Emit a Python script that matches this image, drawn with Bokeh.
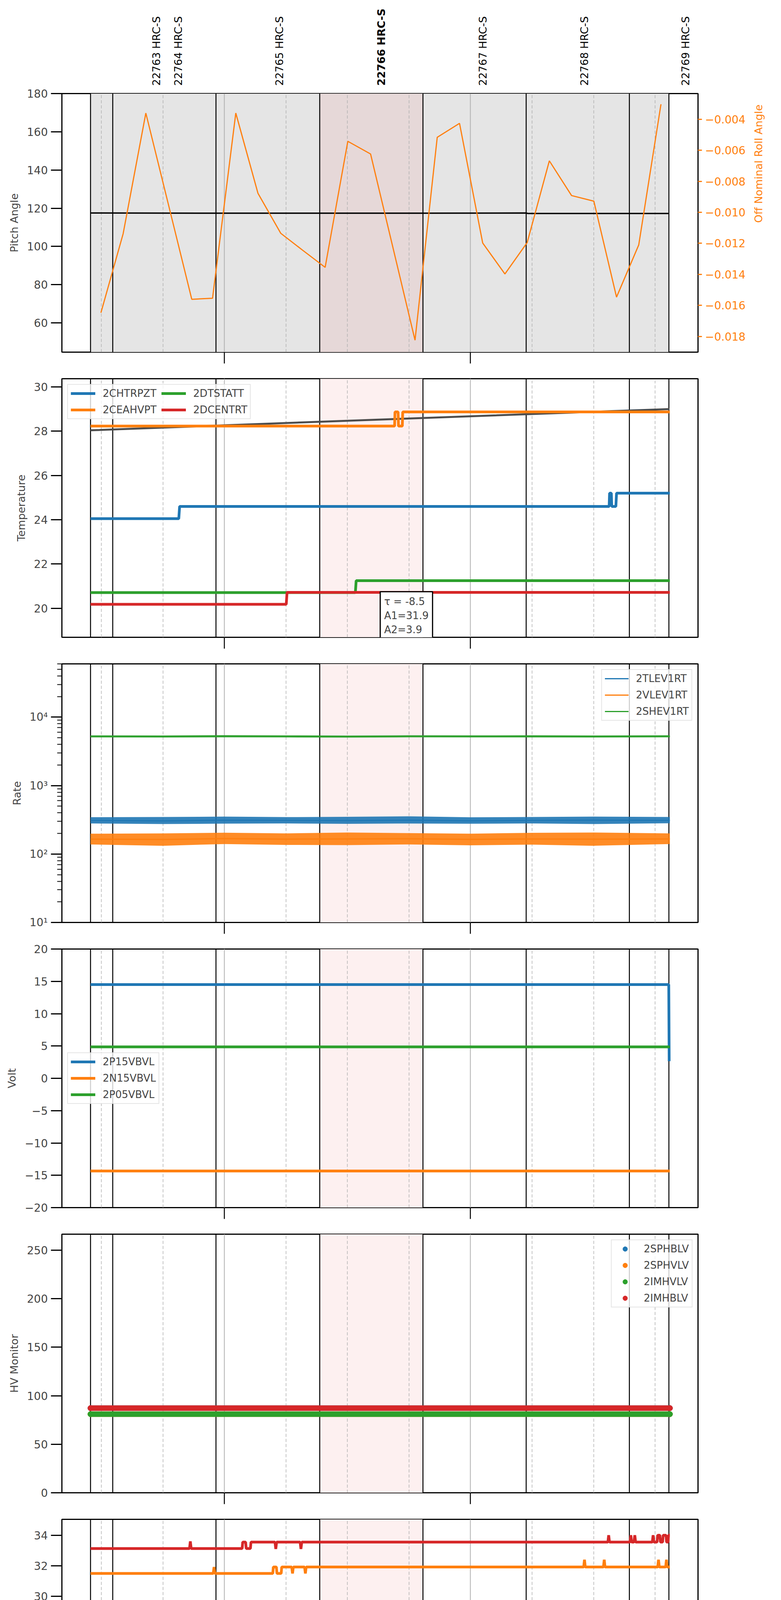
import math

import numpy as np
import pandas as pd
from bokeh.core.properties import value
from bokeh.embed import file_html
from bokeh.layouts import column
from bokeh.models import (BoxAnnotation, CustomJSTickFormatter, FixedTicker, Grid, Label,
                          Legend, LegendItem, LinearAxis, Range1d, SingleIntervalTicker, Span)
from bokeh.plotting import figure
from bokeh.resources import INLINE

DAY = "2020-11-03"

# time window and observation boundaries (UT)
view_start, view_stop = "21:20:22", "23:55:28"
data_start, data_stop = "21:27:21", "23:48:36"
obsids = ["22763", "22764", "22765", "22766", "22767", "22768", "22769"]
obs_start = ["21:27:21", "21:32:46", "21:57:56", "22:23:14", "22:48:24", "23:13:34", "23:38:44"]
obs_stop = "23:48:22"
focus_obsid = "22766"
hour_ticks = ["22:00:00", "23:00:00"]
quarter_ticks = ["21:30:00", "21:45:00", "22:15:00", "22:30:00", "22:45:00",
                 "23:15:00", "23:30:00", "23:45:00"]

# pitch and off nominal roll
pitch_t = ["21:27:21", "21:58:00", "22:48:00", "23:13:30", "23:14:00", "23:48:22"]
pitch_v = [117.5, 117.4, 117.4, 117.5, 117.25, 117.25]
roll_t = ["21:29:53", "21:35:18", "21:40:50", "21:46:16", "21:52:02", "21:57:06", "22:02:46",
          "22:08:10", "22:13:43", "22:19:08", "22:24:33", "22:30:05", "22:35:38", "22:41:03",
          "22:46:28", "22:51:53", "22:57:19", "23:02:58", "23:08:23", "23:13:49", "23:19:13",
          "23:24:38", "23:30:04", "23:35:36", "23:41:01", "23:46:26"]
roll_v = [-0.01648, -0.01138, -0.0036, -0.00942, -0.01561, -0.01554, -0.0036, -0.00877,
          -0.01135, -0.01246, -0.01355, -0.00542, -0.00624, -0.01224, -0.01825, -0.00516,
          -0.00426, -0.01198, -0.01398, -0.01195, -0.00668, -0.00892, -0.00928, -0.01547,
          -0.0121, -0.00303]

# temperatures
model_t = ["21:27:21", "22:29:41", "23:48:30"]
model_v = [28.04, 28.47, 29.00]
chtrpzt_t = ["21:27:21", "21:48:52", "21:49:04", "23:33:48", "23:33:54", "23:34:20", "23:34:26",
             "23:35:26", "23:35:36", "23:48:36"]
chtrpzt_v = [24.05, 24.05, 24.60, 24.60, 25.20, 25.20, 24.60, 24.60, 25.20, 25.20]
ceahvpt_t = ["21:27:21", "22:41:29", "22:41:35", "22:42:20", "22:42:26", "22:43:22", "22:43:28",
             "23:48:36"]
ceahvpt_v = [28.23, 28.23, 28.87, 28.87, 28.23, 28.23, 28.87, 28.87]
dtstatt_t = ["21:27:21", "22:31:55", "22:32:07", "23:48:36"]
dtstatt_v = [20.71, 20.71, 21.25, 21.25]
dcentrt_t = ["21:27:21", "22:15:04", "22:15:16", "23:48:36"]
dcentrt_v = [20.18, 20.18, 20.72, 20.72]
fit_text = "\u03c4 = -8.5\nA1=31.9\nA2=3.9"

# event rates (noisy: envelope and centre)
rate_t = ["21:27:21", "21:45:00", "22:00:00", "22:15:00", "22:30:00", "22:45:00", "23:00:00",
          "23:15:00", "23:30:00", "23:48:36"]
tlev_lo = [280, 274, 278, 280, 276, 279, 277, 280, 274, 282]
tlev_mid = [310, 305, 312, 310, 308, 312, 306, 310, 312, 310]
tlev_hi = [345, 348, 352, 346, 350, 355, 344, 348, 352, 348]
vlev_lo = [138, 132, 140, 136, 135, 138, 134, 137, 132, 140]
vlev_mid = [165, 163, 168, 165, 166, 167, 164, 166, 165, 166]
vlev_hi = [198, 200, 205, 200, 206, 202, 198, 204, 206, 200]
shev_lo = [5060, 5040, 5080, 5050, 5030, 5070, 5050, 5060, 5040, 5070]
shev_mid = [5220, 5210, 5240, 5220, 5200, 5230, 5220, 5230, 5210, 5230]
shev_hi = [5420, 5400, 5460, 5420, 5380, 5430, 5410, 5440, 5400, 5440]

# voltages
p15vbvl_t = ["21:27:21", "23:48:20", "23:48:26"]
p15vbvl_v = [14.5, 14.5, 2.65]
n15vbvl_v = [-14.33, -14.33]
p05vbvl_v = [4.86, 4.86]

# HV monitors
sphblv_v = [87.2, 87.2]
sphvlv_v = [81.0, 81.0]
imhvlv_v = [81.0, 81.0]
imhblv_v = [87.2, 87.2]

# detector temperatures
spinatm_t = ["21:27:21", "22:52:08", "22:52:16", "22:53:10", "22:53:18", "22:54:20", "22:54:28",
             "22:55:16", "23:48:36"]
spinatm_v = [19.62, 19.62, 20.30, 20.30, 19.62, 19.62, 20.30, 20.30, 20.30]
spinatm_spk_t = ["22:56:06", "22:57:33"]
spinatm_spk_v = [19.62, 19.62]
sphvatm_t = ["21:27:21", "22:11:47", "22:11:55", "22:12:40", "22:12:48", "22:13:50", "22:13:58",
             "22:14:33", "23:48:36"]
sphvatm_v = [31.50, 31.50, 31.92, 31.92, 31.50, 31.50, 31.92, 31.92, 31.92]
sphvatm_spk_t = ["21:57:28", "22:16:36", "22:19:44", "23:27:47", "23:32:36", "23:45:50", "23:47:46"]
sphvatm_spk_v = [31.92, 31.5, 31.5, 32.4, 32.4, 32.4, 32.4]
iminatm_v = [20.99, 20.99]
imhvatm_t = ["21:27:21", "22:04:19", "22:04:27", "22:05:10", "22:05:18", "22:06:20", "22:06:28",
             "23:45:29", "23:45:37", "23:46:10", "23:46:18", "23:46:50", "23:46:58", "23:47:40",
             "23:47:48", "23:48:10", "23:48:16", "23:48:36"]
imhvatm_v = [33.13, 33.13, 33.55, 33.55, 33.13, 33.13, 33.55, 33.55, 34.0, 34.0, 33.55, 33.55,
             34.0, 34.0, 33.55, 33.55, 34.0, 34.0]
imhvatm_spk_t = ["21:51:41", "22:12:31", "22:18:39", "23:33:41", "23:39:05", "23:40:03", "23:44:31"]
imhvatm_spk_v = [33.6, 33.1, 33.1, 34.0, 34.0, 34.0, 34.0]

# FEA temperatures
fhtrmzt_v = [23.49, 23.49]
fradpyt_t = ["21:27:21", "23:43:54", "23:44:02", "23:48:36"]
fradpyt_v = [18.65, 18.65, 19.17, 19.17]
fradpyt_spk_t = ["23:47:46"]
fradpyt_spk_v = [18.65]
fepratm_t = ["21:27:21", "22:35:02", "22:35:10", "22:36:00", "22:36:08", "22:37:10", "22:37:18",
             "22:38:02", "23:48:36"]
fepratm_v = [24.63, 24.63, 25.39, 25.39, 24.63, 24.63, 25.39, 25.39, 25.39]
fepratm_spk_t = ["22:39:29", "22:41:18"]
fepratm_spk_v = [24.63, 24.63]
fe00atm_t = ["21:27:21", "22:30:49", "22:30:57", "22:32:00", "22:32:08", "22:33:20", "22:33:28",
             "22:35:00", "22:35:08", "22:36:20", "22:36:28", "23:48:36"]
fe00atm_v = [22.97, 22.97, 23.29, 23.29, 22.97, 22.97, 23.29, 23.29, 22.97, 22.97, 23.29, 23.29]
fe00atm_spk_t = ["21:30:14", "21:31:12", "21:49:16", "21:53:51", "21:58:11", "22:02:38", "22:11:47",
                 "22:16:15", "22:25:16", "22:34:04", "22:37:05", "22:37:55", "22:41:18", "22:45:23",
                 "22:56:21", "23:14:10", "23:15:08", "23:20:26", "23:23:12", "23:28:08", "23:30:04",
                 "23:32:43", "23:41:59"]
fe00atm_spk_v = [22.68, 22.36, 22.36, 22.68, 22.68, 22.04, 23.33, 23.66, 23.98, 23.66, 22.36, 23.66,
                 22.68, 23.98, 22.97, 22.95, 23.66, 23.66, 22.62, 23.66, 22.97, 23.98, 23.66]

BLUE, ORANGE, GREEN, RED = "#1f77b4", "#ff7f0e", "#2ca02c", "#d62728"
FONT = "DejaVu Sans"
WIDTH = 1976
FRAME_W, FRAME_H = 1643, 662
LEFT, RIGHT = 158, WIDTH - 158 - 1643
TOP, BOTTOM = 18, 50


def ms(s):
    return pd.Timestamp(f"{DAY} {s}").value / 1e6


def msl(lst):
    return [ms(s) for s in lst]


def trace(times, values, spike_t=(), spike_v=()):
    xs = msl(times)
    ys = list(values)
    pts = list(zip(xs, ys))
    for s, v in zip(spike_t, spike_v):
        c = ms(s)
        base = float(np.interp(c, xs, ys))
        pts += [(c - 12000, base), (c, v), (c + 12000, base)]
    pts.sort(key=lambda q: q[0])
    return [q[0] for q in pts], [q[1] for q in pts]


span_t = [data_start, data_stop]
xr = Range1d(ms(view_start), ms(view_stop))
bounds = msl(obs_start) + [ms(obs_stop)]
i_focus = obsids.index(focus_obsid)
focus_left, focus_right = bounds[i_focus], bounds[i_focus + 1]


def style_y(ax, label):
    ax.axis_label = label
    ax.axis_label_text_font = FONT
    ax.axis_label_text_font_size = "27px"
    ax.axis_label_text_font_style = "normal"
    ax.axis_label_standoff = 14
    ax.major_label_text_font = FONT
    ax.major_label_text_font_size = "28px"
    ax.major_label_standoff = 8
    ax.major_tick_out = 28
    ax.major_tick_in = 0
    ax.major_tick_line_width = 3
    ax.minor_tick_line_color = None
    ax.axis_line_color = None


def panel(label, yr, interval=None, log=False, bottom=BOTTOM, shade=False):
    p = figure(width=WIDTH, height=TOP + FRAME_H + bottom, x_range=xr, y_range=yr,
               x_axis_type=None, y_axis_type="log" if log else "linear",
               toolbar_location=None, output_backend="svg",
               min_border_left=LEFT, min_border_right=RIGHT,
               min_border_top=TOP, min_border_bottom=bottom)
    p.outline_line_color = "black"
    p.outline_line_width = 3
    p.grid.visible = False
    ya = p.yaxis[0]
    style_y(ya, label)
    if interval:
        ya.ticker = SingleIntervalTicker(interval=interval)
    if log:
        ya.minor_tick_line_color = "black"
        ya.minor_tick_out = 12
        ya.minor_tick_in = 0
        ya.minor_tick_line_width = 2
        ya.formatter = CustomJSTickFormatter(code="""
            const sup = {1: '\\u00b9', 2: '\\u00b2', 3: '\\u00b3', 4: '\\u2074'};
            return '10' + sup[Math.round(Math.log10(tick))];""")
    if shade:
        p.add_layout(BoxAnnotation(left=bounds[0], right=bounds[-1], fill_color="#e5e5e5",
                                   fill_alpha=1, line_color=None, level="underlay"))
    p.add_layout(BoxAnnotation(left=focus_left, right=focus_right,
                               fill_color="#e6d8d8" if shade else "#fdf0f0",
                               fill_alpha=1, line_color=None, level="underlay"))
    p.add_layout(Grid(dimension=0, ticker=FixedTicker(ticks=msl(hour_ticks),
                                                      minor_ticks=msl(quarter_ticks)),
                      grid_line_color="#b0b0b0", grid_line_width=2,
                      minor_grid_line_color="#b0b0b0", minor_grid_line_width=1.5,
                      minor_grid_line_dash="8 5"))
    for b in bounds:
        p.add_layout(Span(location=b, dimension="height", line_color="black",
                          line_width=2.5, level="underlay"))
    if bottom == BOTTOM:
        xa = LinearAxis(ticker=FixedTicker(ticks=msl(hour_ticks)),
                        formatter=CustomJSTickFormatter(code="return '';"),
                        major_tick_out=29, major_tick_in=0, major_tick_line_width=2.5,
                        major_label_standoff=0, major_label_text_font_size="1px",
                        axis_line_color=None)
        p.add_layout(xa, "below")
    return p


def add_legend(p, items, location, ncols=1, glyph_w=63, standoff=19):
    lg = Legend(items=[LegendItem(label=l, renderers=[r]) for l, r in items],
                location=location, ncols=ncols, margin=14, padding=7, spacing=12,
                glyph_width=glyph_w, glyph_height=30, label_height=30, label_standoff=standoff,
                label_text_font=FONT, label_text_font_size="26px",
                border_line_color="#cccccc", border_line_width=2,
                background_fill_color="white", background_fill_alpha=0.8)
    p.add_layout(lg)


# header with obsid labels (frame a little wider than the panels so the last label fits)
HEAD_H, HEAD_EXTRA = 247 - 8 - TOP, 30
span_ms = ms(view_stop) - ms(view_start)
head = figure(width=WIDTH, height=HEAD_H,
              x_range=Range1d(ms(view_start), ms(view_stop) + span_ms * HEAD_EXTRA / FRAME_W),
              y_range=Range1d(-2, HEAD_H - 2),
              x_axis_type=None, y_axis_type=None, toolbar_location=None, output_backend="svg",
              min_border_left=LEFT, min_border_right=RIGHT - HEAD_EXTRA, min_border_top=0,
              min_border_bottom=0, outline_line_color=None)
for bold in (False, True):
    idx = [i for i, o in enumerate(obsids) if (o == focus_obsid) == bold]
    head.text(x=[bounds[i] for i in idx], y=[0] * len(idx),
              text=[f"{obsids[i]} HRC-S" for i in idx], angle=np.pi / 2, x_offset=170,
              text_align="left", text_baseline="middle", text_font=value(FONT),
              text_font_size="27px", text_font_style="bold" if bold else "normal")

# 1: pitch and roll
p1 = panel("Pitch Angle", Range1d(44.7, 180), interval=20, shade=True)
p1.extra_y_ranges = {"roll": Range1d(-0.01902, -0.00234)}
ra = LinearAxis(y_range_name="roll", ticker=SingleIntervalTicker(interval=0.002),
                formatter=CustomJSTickFormatter(code="return tick.toFixed(3).replace('-', '\\u2212');"))
style_y(ra, "Off Nominal Roll Angle")
ra.major_tick_out = 10
ra.major_label_standoff = 8
ra.axis_label_standoff = 30
ra.axis_label_orientation = math.pi / 2
for attr in ("major_tick_line_color", "major_label_text_color", "axis_label_text_color"):
    setattr(ra, attr, ORANGE)
p1.add_layout(ra, "right")
p1.line(msl(pitch_t), pitch_v, color="black", line_width=3.5)
p1.line(msl(roll_t), roll_v, color=ORANGE, line_width=3, y_range_name="roll")

# 2: temperatures
p2 = panel("Temperature", Range1d(18.69, 30.37), interval=2)
p2.line(*trace(model_t, model_v), color="#4d4d4d", line_width=5)
r = [p2.line(*trace(t, v), color=c, line_width=7)
     for t, v, c in [(chtrpzt_t, chtrpzt_v, BLUE), (ceahvpt_t, ceahvpt_v, ORANGE),
                     (dtstatt_t, dtstatt_v, GREEN), (dcentrt_t, dcentrt_v, RED)]]
add_legend(p2, list(zip(["2CHTRPZT", "2CEAHVPT", "2DTSTATT", "2DCENTRT"], r)), "top_left", ncols=2)
p2.add_layout(Label(x=ms("22:37:59"), y=20.75, text=fit_text, text_font=FONT,
                    text_font_size="26px", text_align="left", text_baseline="top",
                    background_fill_color="white", border_line_color="black",
                    border_line_width=3, padding=10))

# 3: rates
p3 = panel("Rate", Range1d(10, 60000), log=True)
r = []
for lo, mid, hi, c in [(tlev_lo, tlev_mid, tlev_hi, BLUE), (vlev_lo, vlev_mid, vlev_hi, ORANGE),
                       (shev_lo, shev_mid, shev_hi, GREEN)]:
    p3.varea(x=msl(rate_t), y1=lo, y2=hi, fill_color=c, fill_alpha=0.9)
    r.append(p3.line(msl(rate_t), mid, color=c, line_width=3))
add_legend(p3, list(zip(["2TLEV1RT", "2VLEV1RT", "2SHEV1RT"], r)), "top_right", glyph_w=61)

# 4: voltages
p4 = panel("Volt", Range1d(-20, 20), interval=5)
p4.yaxis[0].formatter = CustomJSTickFormatter(code="return tick.toFixed(0).replace('-', '\\u2212');")
r = [p4.line(*trace(p15vbvl_t, p15vbvl_v), color=BLUE, line_width=7),
     p4.line(msl(span_t), n15vbvl_v, color=ORANGE, line_width=7),
     p4.line(msl(span_t), p05vbvl_v, color=GREEN, line_width=7)]
add_legend(p4, list(zip(["2P15VBVL", "2N15VBVL", "2P05VBVL"], r)), "center_left")

# 5: HV monitors
p5 = panel("HV Monitor", Range1d(0, 266.4), interval=50)
r = []
for v, c in [(sphblv_v, BLUE), (sphvlv_v, ORANGE), (imhvlv_v, GREEN), (imhblv_v, RED)]:
    p5.line(msl(span_t), v, color=c, line_width=14, line_cap="round")
    r.append(p5.scatter(msl(span_t), v, color=c, size=14))
add_legend(p5, list(zip(["2SPHBLV", "2SPHVLV", "2IMHVLV", "2IMHBLV"], r)), "top_right",
           glyph_w=54, standoff=21)

# 6: detector temperatures
p6 = panel("Detector Temp", Range1d(18.12, 35.04), interval=2)
r = [p6.line(*trace(spinatm_t, spinatm_v, spinatm_spk_t, spinatm_spk_v), color=BLUE, line_width=7),
     p6.line(*trace(sphvatm_t, sphvatm_v, sphvatm_spk_t, sphvatm_spk_v), color=ORANGE, line_width=7),
     p6.line(msl(span_t), iminatm_v, color=GREEN, line_width=7),
     p6.line(*trace(imhvatm_t, imhvatm_v, imhvatm_spk_t, imhvatm_spk_v), color=RED, line_width=7)]
add_legend(p6, list(zip(["2SPINATM", "2SPHVATM", "2IMINATM", "2IMHVATM"], r)), "center_right")

# 7: FEA temperatures, with the time axis
p7 = panel("FEA Temp", Range1d(17.16, 26.89), interval=2, bottom=103)
r = [p7.line(msl(span_t), fhtrmzt_v, color=BLUE, line_width=7),
     p7.line(*trace(fradpyt_t, fradpyt_v, fradpyt_spk_t, fradpyt_spk_v), color=ORANGE, line_width=7),
     p7.line(*trace(fepratm_t, fepratm_v, fepratm_spk_t, fepratm_spk_v), color=GREEN, line_width=7),
     p7.line(*trace(fe00atm_t, fe00atm_v, fe00atm_spk_t, fe00atm_spk_v), color=RED, line_width=7)]
add_legend(p7, list(zip(["2FHTRMZT", "2FRADPYT", "2FEPRATM", "2FE00ATM"], r)), "bottom_left")
qa = LinearAxis(ticker=FixedTicker(ticks=msl(quarter_ticks)),
                formatter=CustomJSTickFormatter(
                    code="return String(new Date(tick).getUTCMinutes()).padStart(2, '0');"),
                major_tick_out=0, major_tick_in=0, major_label_standoff=4,
                major_label_text_font=FONT, major_label_text_font_size="21px",
                axis_line_color=None)
ha = LinearAxis(ticker=FixedTicker(ticks=msl(hour_ticks)),
                formatter=CustomJSTickFormatter(code="return new Date(tick).getUTCHours() + 'h';"),
                major_tick_out=0, major_tick_in=30, major_tick_line_width=2.5,
                major_label_standoff=6, major_label_text_font=FONT,
                major_label_text_font_size="27px", axis_line_color=None,
                axis_label=f"{DAY} (308)", axis_label_text_font=FONT,
                axis_label_text_font_size="31px", axis_label_text_font_style="normal",
                axis_label_standoff=2)
p7.add_layout(qa, "below")
p7.add_layout(ha, "below")

layout = column(head, p1, p2, p3, p4, p5, p6, p7)
open("out.html", "w", encoding="utf-8").write(file_html(layout, INLINE))
